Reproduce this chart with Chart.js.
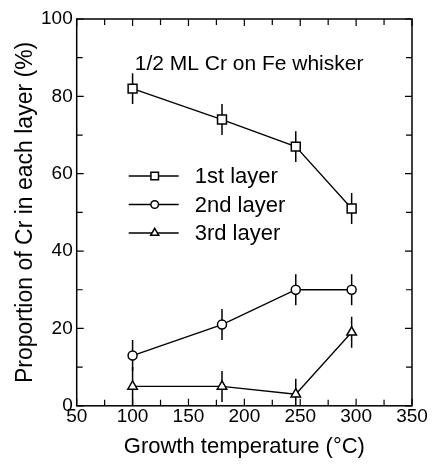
<!DOCTYPE html>
<html>
<head>
<meta charset="utf-8">
<script src="https://cdn.jsdelivr.net/npm/chart.js@4.4.0/dist/chart.umd.min.js"></script>
<style>
  html, body { margin: 0; padding: 0; background: #fff; }
  #wrap { width: 432px; height: 464px; }
</style>
</head>
<body>
<div id="wrap"><canvas id="chart" width="432" height="464"></canvas></div>
<script>
// data
const temps = [100, 180, 246, 296];
const layer1 = [82, 74, 67, 51];
const layer2 = [13, 21, 30, 30];
const layer3 = [5, 5, 3, 19];
const err1 = [4, 4, 4, 4];
const err2 = [4, 4, 4, 4];
const err3 = [5, 4, 4, 4];
const seriesNames = ['1st layer', '2nd layer', '3rd layer'];
const xTicks = [50, 100, 150, 200, 250, 300, 350];
const yTicks = [0, 20, 40, 60, 80, 100];
const noteText = '1/2 ML Cr on Fe whisker';

const FONT = '"Liberation Sans", Arial, sans-serif';

function toPoints(xs, ys) {
    return xs.map((x, i) => ({ x: x, y: ys[i] }));
}

// error bars, drawn under the open markers
const errorBars = {
    id: 'errorBars',
    beforeDatasetsDraw(chart) {
        const ctx = chart.ctx;
        const xs = chart.scales.x, ys = chart.scales.y;
        const area = chart.chartArea;
        ctx.save();
        ctx.beginPath();
        ctx.rect(area.left, area.top, area.right - area.left, area.bottom - area.top);
        ctx.clip();
        ctx.strokeStyle = '#000';
        ctx.lineWidth = 1.5;
        chart.data.datasets.forEach(ds => {
            ds.data.forEach((p, i) => {
                const px = xs.getPixelForValue(p.x);
                ctx.beginPath();
                ctx.moveTo(px, ys.getPixelForValue(p.y + ds.err[i]));
                ctx.lineTo(px, ys.getPixelForValue(p.y - ds.err[i]));
                ctx.stroke();
            });
        });
        ctx.restore();
    }
};

// frame, inward ticks, note and legend inside the plot
const frame = {
    id: 'frame',
    afterDraw(chart) {
        const ctx = chart.ctx;
        const a = chart.chartArea;
        const xs = chart.scales.x, ys = chart.scales.y;
        ctx.save();
        ctx.strokeStyle = '#000';
        ctx.lineWidth = 1.5;
        ctx.strokeRect(a.left, a.top, a.right - a.left, a.bottom - a.top);

        ctx.lineWidth = 1.2;
        ctx.beginPath();
        xs.ticks.forEach(t => {
            const px = xs.getPixelForValue(t.value);
            const len = t.value % 50 === 0 ? 7 : 6;
            ctx.moveTo(px, a.bottom); ctx.lineTo(px, a.bottom - len);
            ctx.moveTo(px, a.top); ctx.lineTo(px, a.top + len);
        });
        ys.ticks.forEach(t => {
            const py = ys.getPixelForValue(t.value);
            const len = t.value % 20 === 0 ? 7 : 6;
            ctx.moveTo(a.left, py); ctx.lineTo(a.left + len, py);
            ctx.moveTo(a.right, py); ctx.lineTo(a.right - len, py);
        });
        ctx.stroke();

        ctx.fillStyle = '#000';
        ctx.font = '21px ' + FONT;
        ctx.textBaseline = 'middle';
        ctx.textAlign = 'left';
        ctx.fillText(noteText, a.left + 58, a.top + 45);

        // legend
        ctx.font = '22px ' + FONT;
        chart.data.datasets.forEach((ds, i) => {
            const y = a.top + 157 + i * 28.5;
            const x0 = a.left + 52;
            ctx.lineWidth = 1.5;
            ctx.strokeStyle = '#000';
            ctx.beginPath();
            ctx.moveTo(x0, y); ctx.lineTo(x0 + 50, y);
            ctx.stroke();
            ctx.fillStyle = '#fff';
            Chart.helpers.drawPoint(ctx, {
                pointStyle: ds.pointStyle,
                radius: ds.pointRadius * 0.85,
                borderWidth: 1.5,
                rotation: 0
            }, x0 + 26, y);
            ctx.fillStyle = '#000';
            ctx.fillText(seriesNames[i], x0 + 66, y + 1);
        });
        ctx.restore();
    }
};

function makeSet(label, ys, err, style, radius) {
    return {
        label: label,
        data: toPoints(temps, ys),
        err: err,
        borderColor: '#000',
        borderWidth: 1.3,
        pointStyle: style,
        pointRadius: radius,
        pointBorderWidth: 1.5,
        pointBackgroundColor: '#fff',
        pointBorderColor: '#000',
        showLine: true,
        tension: 0
    };
}

new Chart(document.getElementById('chart'), {
    type: 'scatter',
    data: {
        datasets: [
            makeSet(seriesNames[0], layer1, err1, 'rect', 6.3),
            makeSet(seriesNames[1], layer2, err2, 'circle', 4.5),
            makeSet(seriesNames[2], layer3, err3, 'triangle', 5.5)
        ]
    },
    options: {
        responsive: false,
        animation: false,
        devicePixelRatio: 1,
        layout: { padding: { top: 19, right: 20, left: 4, bottom: 4 } },
        plugins: {
            legend: { display: false },
            tooltip: { enabled: false }
        },
        scales: {
            x: {
                type: 'linear',
                min: 50,
                max: 350,
                grid: { display: false, drawTicks: false },
                border: { display: false },
                afterBuildTicks(scale) {
                    const t = [];
                    for (let v = 50; v <= 350; v += 25) t.push({ value: v });
                    scale.ticks = t;
                },
                ticks: {
                    autoSkip: false,
                    maxRotation: 0,
                    padding: 0,
                    color: '#000',
                    font: { family: FONT, size: 19 },
                    callback: v => xTicks.includes(v) ? String(v) : ''
                },
                title: {
                    display: true,
                    text: 'Growth temperature (°C)',
                    color: '#000',
                    font: { family: FONT, size: 22 },
                    padding: { top: 5, bottom: 0 }
                }
            },
            y: {
                min: 0,
                max: 100,
                grid: { display: false, drawTicks: false },
                border: { display: false },
                afterBuildTicks(scale) {
                    const t = [];
                    for (let v = 0; v <= 100; v += 10) t.push({ value: v });
                    scale.ticks = t;
                },
                ticks: {
                    autoSkip: false,
                    padding: 4,
                    color: '#000',
                    font: { family: FONT, size: 19 },
                    callback: v => yTicks.includes(v) ? String(v) : ''
                },
                title: {
                    display: true,
                    text: 'Proportion of Cr in each layer (%)',
                    color: '#000',
                    font: { family: FONT, size: 23, lineHeight: 1 },
                    padding: { top: 10, bottom: 0 }
                }
            }
        }
    },
    plugins: [errorBars, frame]
});
</script>
</body>
</html>
